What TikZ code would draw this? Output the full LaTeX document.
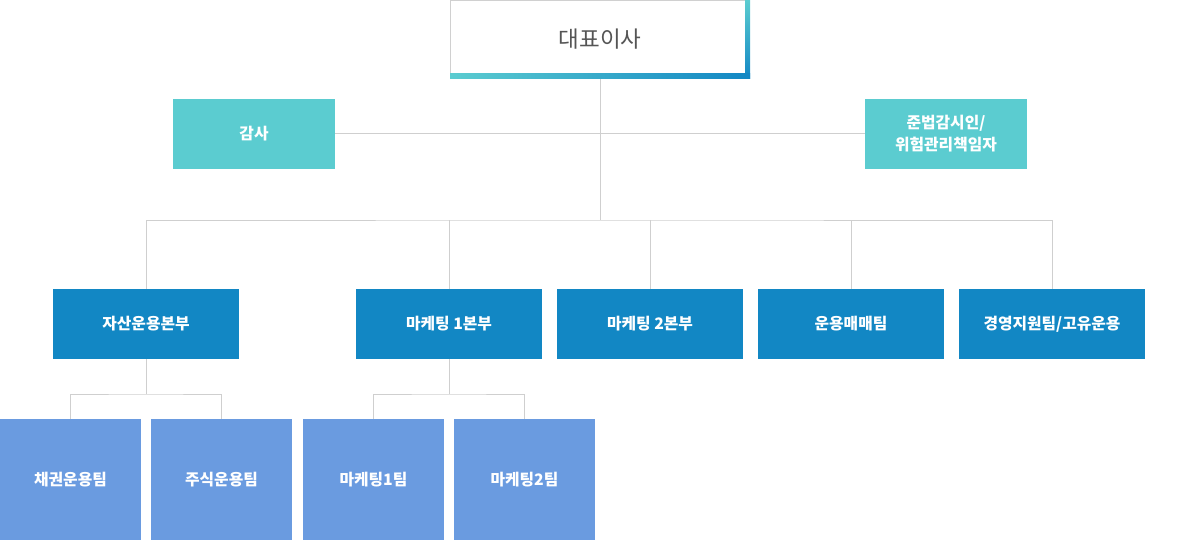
\documentclass[tikz,border=0pt]{standalone}
\usepackage{fontspec}
\setmainfont{Noto Sans CJK KR}
\definecolor{linec}{HTML}{CFCFCF}
\definecolor{tealc}{HTML}{5BCCD0}
\definecolor{bluec}{HTML}{1287C4}
\definecolor{lightc}{HTML}{6A9BE0}
\definecolor{ceotext}{HTML}{555555}
\definecolor{ceoborder}{HTML}{D0D0D0}
\begin{document}
\begin{tikzpicture}[x=1pt,y=-1pt,
  conn/.style={draw=linec, line width=1pt},
  boxbase/.style={inner sep=0pt, outer sep=0pt, text=white, font=\fontsize{15.8}{22}\selectfont\bfseries, align=center},
  tealbox/.style={boxbase, fill=tealc, minimum width=162pt, minimum height=70pt},
  bluebox/.style={boxbase, fill=bluec, minimum width=186pt, minimum height=70pt},
  teambox/.style={boxbase, fill=lightc, minimum width=141pt, minimum height=121pt},
  ceobox/.style={inner sep=0pt, outer sep=0pt, fill=white, draw=ceoborder, line width=1pt, minimum width=299pt, minimum height=78pt, text=ceotext, font=\fontsize{22.5}{26}\selectfont}
]
\useasboundingbox (0,0) rectangle (1198,540);
% top box
\node[ceobox] (ceo) at (600,39.5) {대표이사};
\shade[top color=tealc, bottom color=bluec] (745,0) rectangle (750,79);
\shade[left color=tealc, right color=bluec] (450,74) rectangle (750,79);
% staff
\node[tealbox] (gamsa) at (254,134) {감사};
\node[tealbox] (comp) at (946,134) {준법감시인/\\위험관리책임자};
% divisions
\node[bluebox] (b1) at (146,324) {자산운용본부};
\node[bluebox] (b2) at (449,324) {마케팅 1본부};
\node[bluebox] (b3) at (650,324) {마케팅 2본부};
\node[bluebox] (b4) at (851,324) {운용매매팀};
\node[bluebox] (b5) at (1052,324) {경영지원팀/고유운용};
% teams
\node[teambox] (c1) at (70.5,479.5) {채권운용팀};
\node[teambox] (c2) at (221.5,479.5) {주식운용팀};
\node[teambox] (c3) at (373.5,479.5) {마케팅1팀};
\node[teambox] (c4) at (524.5,479.5) {마케팅2팀};
% junctions
\coordinate (j1) at (600,220);
\coordinate (s1) at (146,394);
\coordinate (s2) at (449,394);
% connectors
\draw[conn] (gamsa.east) -- (comp.west);
\draw[conn] (ceo.south) ++(0,1) -- (j1);
\draw[conn] (b1.north) |- (j1) -| (b5.north);
\draw[conn] (b2.north) -- (b2.north |- j1);
\draw[conn] (b3.north) -- (b3.north |- j1);
\draw[conn] (b4.north) -- (b4.north |- j1);
\draw[conn] (b1.south) -- (s1);
\draw[conn] (c1.north) |- (s1) -| (c2.north);
\draw[conn] (b2.south) -- (s2);
\draw[conn] (c3.north) |- (s2) -| (c4.north);
\end{tikzpicture}
\end{document}
